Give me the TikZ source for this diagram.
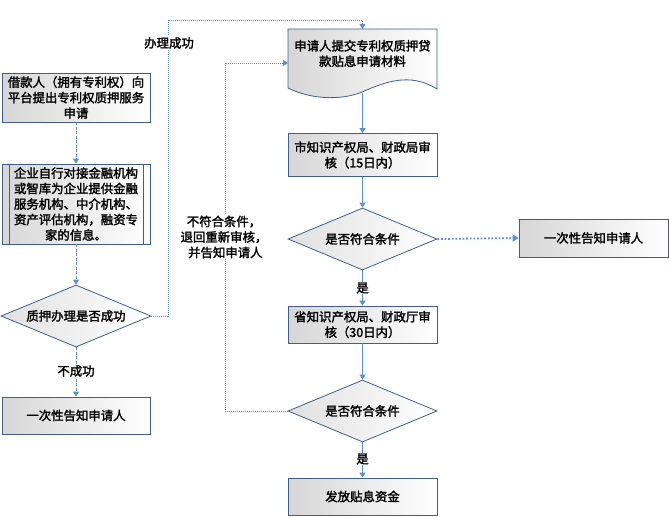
\documentclass[tikz,border=0pt]{standalone}
\usepackage{fontspec}
\setmainfont{Noto Sans CJK SC}[FakeBold=2]
\usetikzlibrary{arrows.meta,shapes.geometric}
\definecolor{lineblue}{HTML}{5B8FD0}
\definecolor{edgec}{HTML}{3F5F8A}
\begin{document}
\begin{tikzpicture}[x=1pt,y=-1pt,
  font=\fontsize{12.4}{15.5}\selectfont,
  box/.style={draw=edgec, line width=0.8pt, left color=black!16, right color=white,
    minimum width=148pt, inner sep=2pt, align=center, text width=144pt},
  dia/.style={diamond, draw=edgec, line width=0.8pt, left color=black!12, right color=white,
    minimum width=149pt, minimum height=62pt, inner sep=0pt, aspect=2.4},
  sarrow/.style={draw=lineblue, line width=0.9pt, -{Triangle[width=6pt,length=5pt]}},
  dasharrow/.style={sarrow, dash pattern=on 3pt off 1.5pt},
  dotarrow/.style={sarrow, dash pattern=on 1pt off 1pt},
  thickdot/.style={sarrow, line width=1.8pt, dash pattern=on 1.8pt off 1.8pt, -{Triangle[width=7pt,length=6pt]}},
  lbl/.style={fill=white, inner sep=1pt, align=center}
]
\useasboundingbox (0,0) rectangle (669,517);

% left column
\node[box, minimum height=49pt] (b1) at (76,97.5) {借款人（拥有专利权）向\\平台提出专利权质押服务\\申请};
\node[box, minimum height=80pt] (b2) at (76,204) {企业自行对接金融机构\\或智库为企业提供金融\\服务机构、中介机构、\\资产评估机构，融资专\\家的信息。};
\draw[edgec, line width=0.8pt] (9,164) -- (9,244) (143,164) -- (143,244);
\node[dia, minimum width=150pt] (d1) at (76,316) {质押办理是否成功};
\node[box, minimum height=37pt] (b3) at (76,415.5) {一次性告知申请人};

\draw[dasharrow] (b1.south) -- (b2.north);
\draw[dasharrow] (b2.south) -- (d1.north);
\draw[dasharrow] (d1.south) -- (b3.north);
\node[lbl] (l1) at (76,371) {不成功};

% document shape
\path[draw=edgec, line width=0.8pt, left color=black!16, right color=white]
  (288,29) -- (437,29) -- (437,89)
  .. controls (410,72) and (385,82) .. (362,92)
  .. controls (340,101) and (310,99) .. (288,88) -- cycle;
\node[align=center] (doc) at (362.5,53.5) {申请人提交专利权质押贷\\款贴息申请材料};
\coordinate (docN) at (362.5,29);
\coordinate (docS) at (362.5,93);
\coordinate (docW) at (288,63);

% right column
\node[box, minimum width=149pt, minimum height=43pt] (r1) at (362.5,155) {市知识产权局、财政局审\\核（15日内）};
\node[dia] (d2) at (362.5,239) {是否符合条件};
\node[box, minimum width=149pt, minimum height=38pt] (rb) at (593.5,238) {一次性告知申请人};
\node[box, minimum width=149pt, minimum height=37pt] (r2) at (362.5,324.5) {省知识产权局、财政厅审\\核（30日内）};
\node[dia] (d3) at (362.5,411) {是否符合条件};
\node[box, minimum width=149pt, minimum height=37pt] (r3) at (362.5,496.5) {发放贴息资金};

\draw[sarrow] (docS) -- (r1.north);
\draw[sarrow] (r1.south) -- (d2.north);
\draw[sarrow] (d2.south) -- (r2.north);
\node[lbl] (y1) at (362.5,288) {是};
\draw[sarrow] (r2.south) -- (d3.north);
\draw[sarrow] (d3.south) -- (r3.north);
\node[lbl] (y2) at (362.5,459) {是};
\draw[thickdot] (d2.east) -- (rb.west);

% loop 1: success
\coordinate (la) at (168,316);
\coordinate (lb) at (168,20);
\coordinate (lc) at (362.5,20);
\draw[dotarrow] (d1.east) -- (la) -- (lb) -- (lc) -- (docN);
\node[lbl] (ok) at (169,43) {办理成功};

% loop 2: reject
\coordinate (ma) at (225,411);
\coordinate (mb) at (225,63);
\draw[dotarrow] (d3.west) -- (ma) -- (mb) -- (docW);
\node[lbl] (rej) at (224,237) {不符合条件，\\退回重新审核，\\\ 并告知申请人};
\end{tikzpicture}
\end{document}
